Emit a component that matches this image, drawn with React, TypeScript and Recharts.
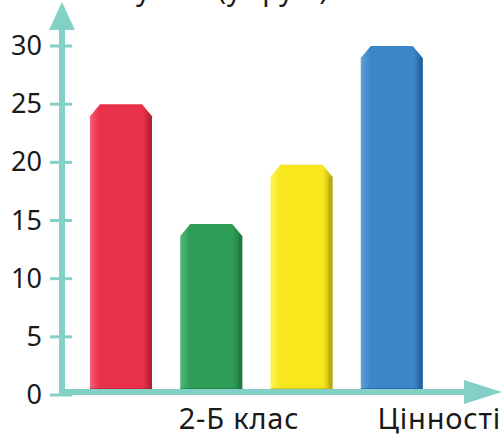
import React from "react";
import { BarChart, Bar, XAxis, YAxis, Cell } from "recharts";

const categories = ["A", "B", "C", "D"];
const values = [25, 14.7, 19.8, 30];
const colors = ["#e8304a", "#2e9d58", "#f7e71c", "#3a86c6"];
const darkColors = ["#b81f35", "#1f7a42", "#b8a812", "#22629c"];
const lightColors = ["#f3607a", "#53b878", "#fff45a", "#5fa2dc"];
const yTicks = [0, 5, 10, 15, 20, 25, 30];
const titleText = "Кількість учнів (у групі)";
const xLabel = "2-Б клас";
const axisName = "Цінності";

const data = categories.map((c, i) => ({ name: c, value: values[i] }));

const W = 504;
const H = 446;
const LEFT = 62;
const TOP = 46;
const BOTTOM = 51;
const RIGHT = 64;
const AXIS = "#82d0c6";
const FONT = "'Noto Sans', sans-serif";

const ChamferBar = (props: any) => {
  const { x, y, width, height, index } = props;
  if (height <= 0) return null;
  const c = 10;
  const cy = 12;
  const path = `M${x},${y + cy} L${x + c},${y} L${x + width - c},${y} L${x + width},${y + cy} L${x + width},${y + height} L${x},${y + height} Z`;
  return (
    <g>
      <path d={path} fill={`url(#grad${index})`} />
      <rect x={x + width - 4} y={y + cy} width={4} height={height - cy} fill={darkColors[index]} opacity={0.7} />
      <rect x={x} y={y + height - 7} width={width} height={5} fill={darkColors[index]} opacity={0.6} />
    </g>
  );
};

const YTick = (props: any) => {
  const { x, y, payload } = props;
  return (
    <g>
      <line x1={x - 12} x2={x + 10} y1={y} y2={y} stroke={AXIS} strokeWidth={3} />
      <text x={x - 20} y={y} dy={9} textAnchor="end" fontSize={27} fontFamily={FONT} fill="#1a1a1a">
        {payload.value}
      </text>
    </g>
  );
};

export default function App() {
  const axisY = H - BOTTOM - 3;
  return (
    <div style={{ position: "absolute", left: 0, top: 0, width: W, height: H, background: "#fff" }}>
      <BarChart
        width={W}
        height={H}
        data={data}
        margin={{ top: TOP, right: RIGHT, bottom: BOTTOM, left: 0 }}
        barCategoryGap={0}
      >
        <defs>
          {colors.map((col, i) => (
            <linearGradient key={i} id={`grad${i}`} x1="0" y1="0" x2="1" y2="0">
              <stop offset="0%" stopColor={lightColors[i]} />
              <stop offset="15%" stopColor={col} />
              <stop offset="85%" stopColor={col} />
              <stop offset="100%" stopColor={darkColors[i]} />
            </linearGradient>
          ))}
        </defs>
        <XAxis dataKey="name" hide padding={{ left: 14, right: 3 }} />
        <YAxis
          domain={[0, 30]}
          ticks={yTicks}
          width={LEFT}
          axisLine={false}
          tickLine={false}
          tickSize={0}
          tickMargin={0}
          tick={<YTick />}
          interval={0}
        />
        <Bar dataKey="value" barSize={62} isAnimationActive={false} shape={<ChamferBar />}>
          {data.map((d, i) => (
            <Cell key={d.name} fill={colors[i]} />
          ))}
        </Bar>
      </BarChart>
      <svg
        width={W}
        height={H}
        style={{ position: "absolute", left: 0, top: 0, pointerEvents: "none" }}
      >
        <text x={2} y={0} fontSize={28} fontFamily={FONT} fill="#1a1a1a" letterSpacing={0.6}>
          {titleText}
        </text>
        <line x1={LEFT} x2={LEFT} y1={axisY + 3} y2={24} stroke={AXIS} strokeWidth={6} />
        <polygon points={`${LEFT - 13},30 ${LEFT},2 ${LEFT + 13},30`} fill={AXIS} />
        <line x1={LEFT - 3} x2={470} y1={axisY} y2={axisY} stroke={AXIS} strokeWidth={6} />
        <polygon points={`464,${axisY - 12} 502,${axisY} 464,${axisY + 12}`} fill={AXIS} />
        <text x={239} y={429} textAnchor="middle" fontSize={29} fontFamily={FONT} fill="#1a1a1a" letterSpacing={0.8}>
          {xLabel}
        </text>
        <text x={501} y={429} textAnchor="end" fontSize={29} fontFamily={FONT} fill="#1a1a1a" letterSpacing={0.8}>
          {axisName}
        </text>
      </svg>
    </div>
  );
}
